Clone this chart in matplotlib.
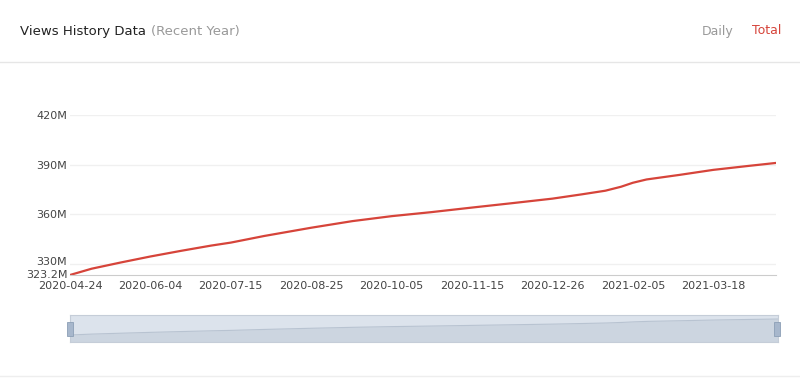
import numpy as np
import matplotlib.pyplot as plt
import matplotlib.dates as mdates
import matplotlib.transforms as mtransforms
import pandas as pd

# Data (millions of total views)
dates = ['2020-04-24', '2020-05-05', '2020-05-20', '2020-06-04', '2020-06-20',
         '2020-07-05', '2020-07-15', '2020-08-01', '2020-08-25', '2020-09-15',
         '2020-10-05', '2020-10-25', '2020-11-15', '2020-12-05', '2020-12-26',
         '2021-01-10', '2021-01-22', '2021-01-30', '2021-02-05', '2021-02-12',
         '2021-03-01', '2021-03-18', '2021-04-05', '2021-04-19']
views = [323.2, 327.0, 330.8, 334.4, 337.9,
         341.0, 342.8, 346.8, 351.8, 355.8,
         358.8, 361.2, 364.0, 366.6, 369.4,
         372.0, 374.2, 376.6, 379.0, 381.0,
         383.8, 386.8, 389.2, 391.0]
tick_dates = ['2020-04-24', '2020-06-04', '2020-07-15', '2020-08-25', '2020-10-05',
              '2020-11-15', '2020-12-26', '2021-02-05', '2021-03-18']
y_ticks = [323.2, 330, 360, 390, 420]
y_labels = ['323.2M', '330M', '360M', '390M', '420M']

x = pd.to_datetime(dates)
xt = pd.to_datetime(tick_dates)

red = '#d6443a'
fig = plt.figure(figsize=(8, 3.78), dpi=100)

# header
fig.text(20/800, 1 - 31/378, 'Views History Data', fontsize=9.5, color='#222222', va='center')
fig.text(151/800, 1 - 31/378, '(Recent Year)', fontsize=9.5, color='#999999', va='center')
fig.text(702/800, 1 - 31/378, 'Daily', fontsize=9, color='#999999', va='center')
fig.text(752/800, 1 - 31/378, 'Total', fontsize=9, color=red, va='center')
fig.add_artist(plt.Line2D([0, 1], [1 - 62/378, 1 - 62/378], color='#e6e6e6', lw=1))
fig.add_artist(plt.Line2D([0, 1], [1 - 376/378, 1 - 376/378], color='#eeeeee', lw=1))

# main chart
ax = fig.add_axes([70/800, 103/378, 706/800, 160/378])
ax.plot(x, views, color=red, lw=1.6)
ax.set_xlim(x[0], x[-1])
ax.set_ylim(323.2, 420)
ax.set_yticks(y_ticks)
ax.set_yticklabels(y_labels)
ax.set_xticks(xt)
ax.xaxis.set_major_formatter(mdates.DateFormatter('%Y-%m-%d'))
for yv in y_ticks[1:]:
    ax.axhline(yv, color='#f0f0f0', lw=1, zorder=0)
for s in ['top', 'right', 'left']:
    ax.spines[s].set_visible(False)
ax.spines['bottom'].set_color('#cccccc')
ax.tick_params(axis='both', length=0, labelsize=8, colors='#444444', pad=2)
ax.tick_params(axis='x', pad=4)

# nudge the two close y labels apart
lbls = ax.get_yticklabels()
lbls[1].set_transform(lbls[1].get_transform() + mtransforms.ScaledTranslation(0, 3/100, fig.dpi_scale_trans))
lbls[0].set_transform(lbls[0].get_transform() + mtransforms.ScaledTranslation(0, 1/100, fig.dpi_scale_trans))

# data zoom slider
sl = fig.add_axes([70/800, 36/378, 708/800, 27/378])
sl.set_facecolor('#dce3ec')
sl.fill_between(x, 293.5, views, color='#ccd5e0', lw=0)
sl.plot(x, views, color='#b8c3d1', lw=0.8)
sl.set_xlim(x[0], x[-1])
sl.set_ylim(293.5, 408)
sl.set_xticks([])
sl.set_yticks([])
for s in sl.spines.values():
    s.set_color('#c5cdd8')
for hx in [70/800, 777/800]:
    fig.add_artist(plt.Rectangle((hx - 3/800, 1 - 336/378), 6/800, 14/378,
                                 facecolor='#a7b7cc', edgecolor='#8c9fb6', lw=0.6))

fig.savefig('out.png', dpi=100)
